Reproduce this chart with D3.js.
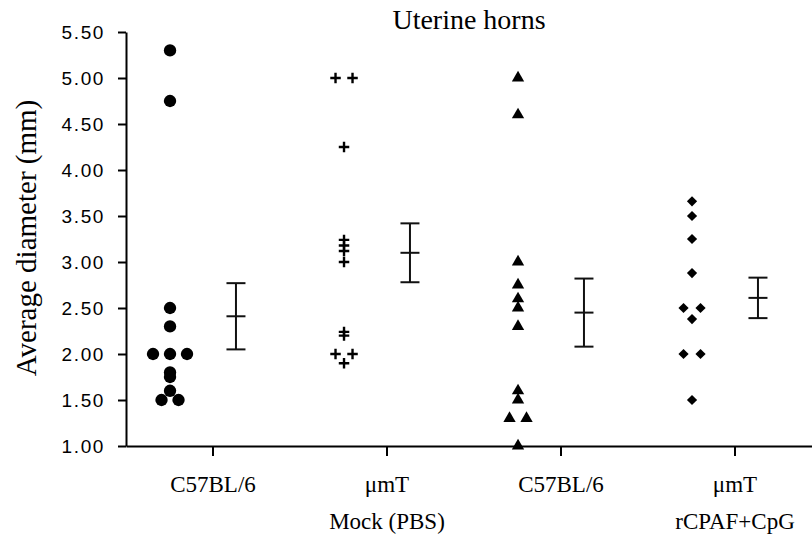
<!DOCTYPE html>
<html>
<head>
<meta charset="utf-8">
<script src="https://cdn.jsdelivr.net/npm/d3@7"></script>
<style>
  body { margin: 0; background: #fff; }
</style>
</head>
<body>
<svg id="chart" width="812" height="535"></svg>
<script>
// values (average diameter, mm)
const groups = ["Mock C57BL/6", "Mock umT", "CpG C57BL/6", "CpG umT"];
const tickLabels = ["C57BL/6", "\u03bcmT", "C57BL/6", "\u03bcmT"];
const treatments = ["Mock (PBS)", "rCPAF+CpG"];

const mockC57 = [5.30, 4.75, 2.50, 2.30, 2.00, 2.00, 2.00, 1.80, 1.75, 1.60, 1.50, 1.50];
const mockUmt = [5.00, 5.00, 4.25, 3.24, 3.18, 3.12, 3.00, 2.24, 2.20, 2.00, 2.00, 1.90];
const cpgC57 = [5.00, 4.60, 3.00, 2.75, 2.60, 2.50, 2.30, 1.60, 1.50, 1.30, 1.30, 1.00];
const cpgUmt = [3.66, 3.50, 3.25, 2.88, 2.50, 2.50, 2.38, 2.00, 2.00, 1.50];

const means = [2.41, 3.10, 2.45, 2.61];
const sems = [0.36, 0.32, 0.37, 0.22];

const yTicks = [1.00, 1.50, 2.00, 2.50, 3.00, 3.50, 4.00, 4.50, 5.00, 5.50];

const svg = d3.select("#chart");

let x = d3.scaleBand()
  .domain(groups)
  .range([126, 822])
  .padding(0);

let y = d3.scaleLinear()
  .domain([1, 5.5])
  .range([446, 32]);

// title
svg.append("text")
  .text("Uterine horns")
  .attr("x", 469)
  .attr("y", 29)
  .attr("text-anchor", "middle")
  .style("font-family", "'Liberation Serif', 'Times New Roman', serif")
  .style("font-size", "28px");

// y axis
let yAxis = svg.append("g")
  .attr("transform", "translate(126,0)")
  .call(d3.axisLeft(y).tickValues(yTicks).tickFormat(d3.format(".2f")).tickSizeInner(8).tickSizeOuter(0));
yAxis.select(".domain").attr("stroke-width", 2);
yAxis.selectAll(".tick line").attr("stroke-width", 2);
yAxis.selectAll(".tick text")
  .attr("x", -21)
  .attr("dy", "0.36em")
  .style("font-family", "'Liberation Sans', Arial, sans-serif")
  .style("font-size", "19px")
  .style("letter-spacing", "1.6px")
  .attr("fill", "#000");

svg.append("text")
  .text("Average diameter (mm)")
  .attr("transform", "translate(36,238) rotate(-90)")
  .attr("text-anchor", "middle")
  .style("font-family", "'Liberation Serif', 'Times New Roman', serif")
  .style("font-size", "29px");

// x axis
let xAxis = svg.append("g")
  .attr("transform", "translate(0,446)")
  .call(d3.axisBottom(x).tickFormat((d, i) => tickLabels[i]).tickSizeInner(10).tickSizeOuter(0));
xAxis.select(".domain").attr("stroke-width", 2);
xAxis.selectAll(".tick line").attr("stroke-width", 2);
xAxis.selectAll(".tick text")
  .attr("y", 46)
  .attr("dy", 0)
  .style("font-family", "'Liberation Serif', 'Times New Roman', serif")
  .style("font-size", "23px")
  .attr("fill", "#000");

// treatment labels, centred between their two strains
svg.selectAll(".treatment")
  .data(treatments)
  .join("text")
    .attr("class", "treatment")
    .text(d => d)
    .attr("x", (d, i) => (x(groups[2 * i]) + x(groups[2 * i + 1])) / 2 + x.bandwidth())
    .attr("y", 529)
    .attr("text-anchor", "middle")
    .style("font-family", "'Liberation Serif', 'Times New Roman', serif")
    .style("font-size", "23px");

// markers
const plusSymbol = {
  draw(context, size) {
    const r = Math.sqrt(size) / 2;
    context.moveTo(-r, 0);
    context.lineTo(r, 0);
    context.moveTo(0, -r);
    context.lineTo(0, r);
  }
};

const series = [mockC57, mockUmt, cpgC57, cpgUmt];
const markers = [
  { type: d3.symbolCircle, size: 120, rot: 0, stroke: false },
  { type: plusSymbol, size: 110, rot: 0, stroke: true },
  { type: d3.symbolTriangle, size: 66, rot: 0, stroke: false },
  { type: d3.symbolSquare, size: 52, rot: 45, stroke: false }
];

// points with the same value are spread side by side
const spread = 17;

series.forEach(function(vals, gi) {
  let counts = d3.rollup(vals, v => v.length, v => v);
  let seen = new Map();
  let pts = vals.map(function(v) {
    let n = counts.get(v);
    let k = seen.get(v) || 0;
    seen.set(v, k + 1);
    return { v: v, off: (k - (n - 1) / 2) * spread };
  });

  let cx = x(groups[gi]) + x.bandwidth() * 0.253;
  let m = markers[gi];
  let sym = d3.symbol().type(m.type).size(m.size);

  svg.append("g")
    .selectAll("path")
    .data(pts)
    .join("path")
      .attr("d", sym)
      .attr("transform", d => "translate(" + (cx + d.off) + "," + y(d.v) + ") rotate(" + m.rot + ")")
      .attr("fill", m.stroke ? "none" : "#000")
      .attr("stroke", m.stroke ? "#000" : "none")
      .attr("stroke-width", 2.4);
});

// mean +/- error bars
const capW = 9.5;
groups.forEach(function(g, gi) {
  let ex = x(g) + x.bandwidth() * 0.632;
  let top = y(means[gi] + sems[gi]);
  let bot = y(means[gi] - sems[gi]);
  let eg = svg.append("g").attr("stroke", "#111").attr("stroke-width", 2);
  eg.append("line").attr("x1", ex).attr("x2", ex).attr("y1", top).attr("y2", bot);
  [means[gi] + sems[gi], means[gi], means[gi] - sems[gi]].forEach(function(v) {
    eg.append("line")
      .attr("x1", ex - capW).attr("x2", ex + capW)
      .attr("y1", y(v)).attr("y2", y(v));
  });
});
</script>
</body>
</html>
